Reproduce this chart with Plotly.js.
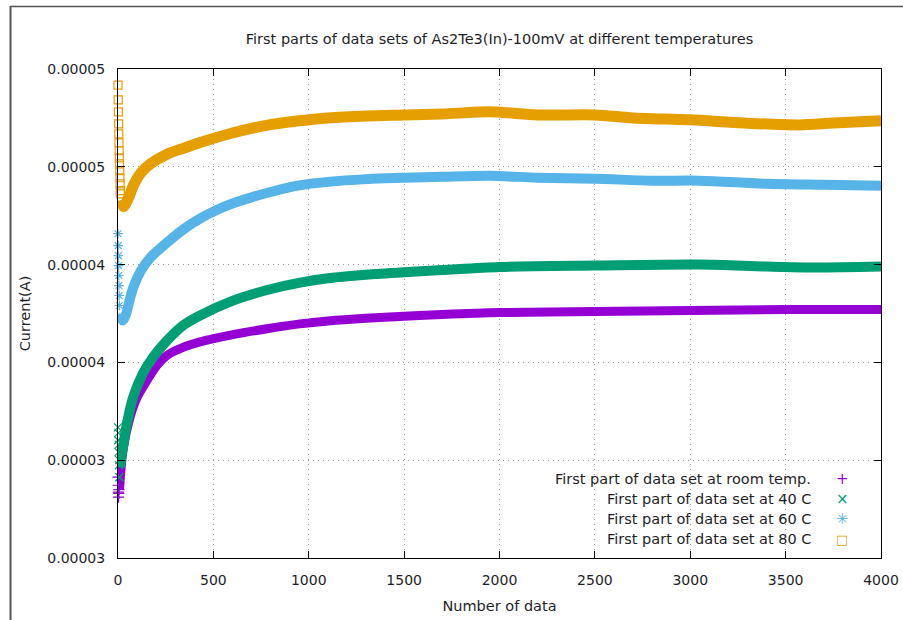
<!DOCTYPE html>
<html>
<head>
<meta charset="utf-8">
<script src="https://cdn.plot.ly/plotly-3.0.1.min.js"></script>
<style>html,body{margin:0;padding:0;background:#fff;}#chart{width:903px;height:620px;}</style>
</head>
<body>
<div id="chart"></div>
<script>
// ---- Data ----
// Room temperature (purple)
var nRoomStart = [0, 1, 2, 3, 4, 5];
var iRoomStart = [3.413e-5, 3.372e-5, 3.337e-5, 3.311e-5, 3.33e-5, 3.35e-5];
var nRoom = [8, 26, 63, 100, 152, 204, 257, 341, 430, 603, 781, 954, 1100, 1300, 1500, 1700, 2000, 2500, 3000, 3500, 4000];
var iRoom = [3.35e-5, 3.551e-5, 3.719e-5, 3.821e-5, 3.908e-5, 3.985e-5, 4.036e-5, 4.077e-5, 4.105e-5, 4.142e-5, 4.172e-5, 4.197e-5, 4.212e-5, 4.226e-5, 4.236e-5, 4.245e-5, 4.255e-5, 4.260e-5, 4.265e-5, 4.270e-5, 4.270e-5];

// 40 C (green)
var n40Start = [0, 1, 2, 3, 4, 5, 6, 7];
var i40Start = [3.668e-5, 3.602e-5, 3.64e-5, 3.541e-5, 3.58e-5, 3.474e-5, 3.50e-5, 3.413e-5];
var n40 = [10, 47, 79, 131, 183, 257, 341, 430, 603, 781, 954, 1100, 1300, 1500, 1700, 2000, 2500, 3050, 3400, 3660, 4000];
var i40 = [3.464e-5, 3.689e-5, 3.821e-5, 3.944e-5, 4.026e-5, 4.112e-5, 4.189e-5, 4.240e-5, 4.316e-5, 4.370e-5, 4.408e-5, 4.430e-5, 4.448e-5, 4.461e-5, 4.472e-5, 4.488e-5, 4.495e-5, 4.500e-5, 4.490e-5, 4.485e-5, 4.490e-5];

// 60 C (blue)
var n60Start = [0, 1, 2, 3, 4, 5, 6, 7];
var i60Start = [4.658e-5, 4.597e-5, 4.546e-5, 4.495e-5, 4.444e-5, 4.393e-5, 4.342e-5, 4.291e-5];
var n60 = [10, 25, 40, 60, 80, 120, 170, 260, 350, 430, 520, 600, 780, 950, 1100, 1300, 1500, 1700, 1950, 2200, 2500, 2800, 3050, 3400, 3700, 4000];
var i60 = [4.25e-5, 4.214e-5, 4.24e-5, 4.316e-5, 4.383e-5, 4.469e-5, 4.536e-5, 4.615e-5, 4.685e-5, 4.735e-5, 4.780e-5, 4.812e-5, 4.866e-5, 4.905e-5, 4.923e-5, 4.937e-5, 4.944e-5, 4.949e-5, 4.954e-5, 4.944e-5, 4.939e-5, 4.929e-5, 4.929e-5, 4.913e-5, 4.908e-5, 4.903e-5];

// 80 C (orange)
var n80Start = [0, 1, 2, 3, 4, 5, 6, 7, 8, 9, 10, 11, 12, 13];
var i80Start = [5.418e-5, 5.342e-5, 5.281e-5, 5.219e-5, 5.168e-5, 5.122e-5, 5.082e-5, 5.046e-5, 5.015e-5, 4.980e-5, 4.944e-5, 4.913e-5, 4.878e-5, 4.862e-5];
var n80 = [15, 30, 40, 60, 80, 120, 170, 260, 350, 430, 600, 780, 950, 1100, 1300, 1500, 1700, 1950, 2200, 2500, 2700, 3000, 3280, 3575, 3750, 4000];
var i80 = [4.83e-5, 4.796e-5, 4.811e-5, 4.852e-5, 4.903e-5, 4.969e-5, 5.015e-5, 5.066e-5, 5.097e-5, 5.124e-5, 5.173e-5, 5.212e-5, 5.235e-5, 5.250e-5, 5.260e-5, 5.265e-5, 5.270e-5, 5.281e-5, 5.265e-5, 5.265e-5, 5.250e-5, 5.240e-5, 5.224e-5, 5.214e-5, 5.224e-5, 5.235e-5];

var seriesNames = ["First part of data set at room temp.", "First part of data set at 40 C", "First part of data set at 60 C", "First part of data set at 80 C"];
var seriesColors = ["#9400d3", "#009e73", "#56b4e9", "#e69f00"];
var legendGlyphs = ["+", "\u00d7", "\u2733", "\u25a1"];

var xTickVals = [0, 500, 1000, 1500, 2000, 2500, 3000, 3500, 4000];
var yTickVals = [3.0e-5, 3.5e-5, 4.0e-5, 4.5e-5, 5.0e-5, 5.5e-5];
var yTickText = ["0.00003", "0.00003", "0.00004", "0.00004", "0.00005", "0.00005"];

// ---- Build traces ----
var FONT = "DejaVu Sans, Verdana, sans-serif";
var TXT = "#1e1e28";
var bands = [[nRoom, iRoom], [n40, i40], [n60, i60], [n80, i80]];
var starts = [[nRoomStart, iRoomStart], [n40Start, i40Start], [n60Start, i60Start], [n80Start, i80Start]];
var startSymbols = ["cross-thin-open", "x-thin-open", "asterisk-open", "square-open"];
var widths = [9, 10, 10, 11];

var traces = [];
for (var k = 0; k < 4; k++) {
  traces.push({
    x: bands[k][0], y: bands[k][1], type: "scatter", mode: "lines",
    line: {color: seriesColors[k], width: widths[k], shape: "spline", smoothing: 0.8},
    name: seriesNames[k], showlegend: false, hoverinfo: "skip"
  });
  traces.push({
    x: starts[k][0], y: starts[k][1], type: "scatter", mode: "markers",
    marker: {symbol: startSymbols[k], size: 8, color: seriesColors[k], line: {color: seriesColors[k], width: 1.2}},
    name: seriesNames[k], showlegend: false, cliponaxis: false, hoverinfo: "skip"
  });
}

// ---- Legend as annotations (gnuplot style: text right, symbol after) ----
var L = 118, R = 881, T = 69, B = 558;
function px2px(x) { return (x - L) / (R - L); }
function py2py(y) { return (B - y) / (B - T); }
var annotations = [];
var rowY = [479, 499, 519, 539];
for (var j = 0; j < 4; j++) {
  annotations.push({
    xref: "paper", yref: "paper", x: px2px(813), y: py2py(rowY[j]),
    xanchor: "right", yanchor: "middle", showarrow: false,
    text: seriesNames[j], font: {family: FONT, size: 14.5, color: TXT}
  });
  annotations.push({
    xref: "paper", yref: "paper", x: px2px(842), y: py2py(rowY[j]),
    xanchor: "center", yanchor: "middle", showarrow: false,
    text: legendGlyphs[j], font: {family: FONT, size: j === 3 ? 13 : 15, color: seriesColors[j]}
  });
}

var shapes = [
  {type: "line", xref: "paper", yref: "paper", x0: px2px(10), x1: px2px(903), y0: py2py(6.5), y1: py2py(6.5), line: {color: "#555", width: 1.5}},
  {type: "line", xref: "paper", yref: "paper", x0: px2px(10.5), x1: px2px(10.5), y0: py2py(6), y1: py2py(620), line: {color: "#555", width: 2}}
];

var layout = {
  width: 903, height: 620,
  margin: {l: L, r: 903 - R, t: T, b: 620 - B, pad: 0},
  paper_bgcolor: "#ffffff", plot_bgcolor: "#ffffff",
  font: {family: FONT, size: 14, color: TXT},
  showlegend: false,
  title: {text: "First parts of data sets of As2Te3(In)-100mV at different temperatures",
          font: {family: FONT, size: 14.5, color: TXT},
          x: 0.5, xref: "paper", xanchor: "center", y: 1 - 39 / 620, yref: "container", yanchor: "middle"},
  xaxis: {
    range: [0, 4000], tickmode: "array", tickvals: xTickVals,
    ticks: "inside", ticklen: 7, tickcolor: "#000", mirror: "allticks",
    showline: true, linecolor: "#000", linewidth: 1,
    showgrid: true, gridcolor: "#9a9a9a", griddash: "1px,4px", gridwidth: 1,
    zeroline: false, ticklabelstandoff: 9,
    tickfont: {family: FONT, size: 14, color: TXT},
    title: {text: "Number of data", font: {family: FONT, size: 14.5, color: TXT}, standoff: 14}
  },
  yaxis: {
    range: [3.0e-5, 5.5e-5], tickmode: "array", tickvals: yTickVals, ticktext: yTickText,
    ticks: "inside", ticklen: 7, tickcolor: "#000", mirror: "allticks",
    showline: true, linecolor: "#000", linewidth: 1,
    showgrid: true, gridcolor: "#9a9a9a", griddash: "1px,4px", gridwidth: 1,
    zeroline: false, ticklabelstandoff: 9,
    tickfont: {family: FONT, size: 14, color: TXT},
    title: {text: "Current(A)", font: {family: FONT, size: 14.5, color: TXT}, standoff: 13}
  },
  annotations: annotations,
  shapes: shapes
};

Plotly.newPlot("chart", traces, layout, {displayModeBar: false, staticPlot: true});
</script>
</body>
</html>
